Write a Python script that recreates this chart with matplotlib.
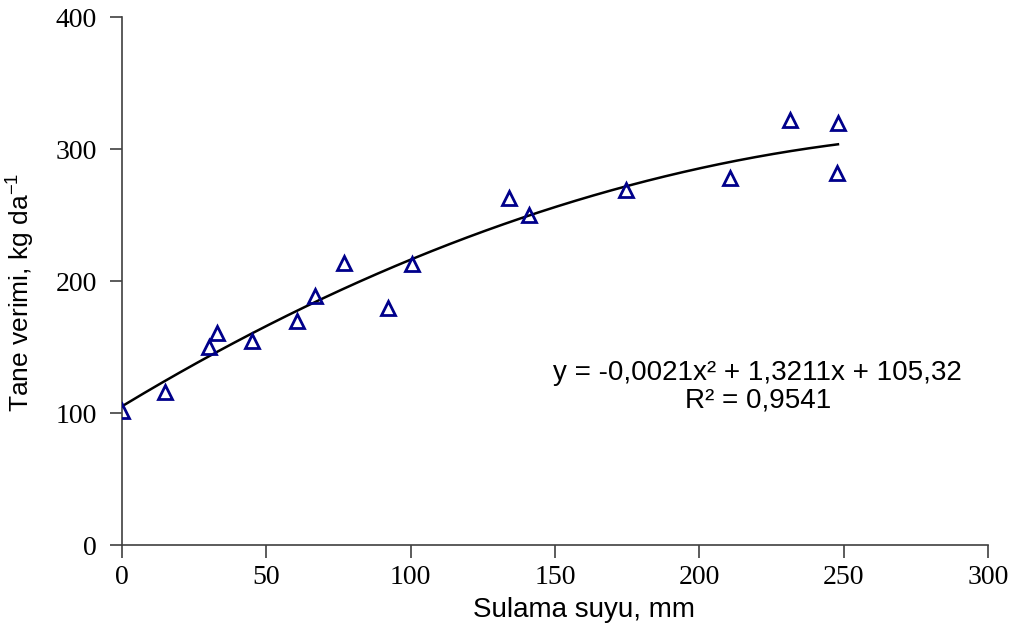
import numpy as np
import matplotlib.pyplot as plt

# irrigation water (mm) and grain yield (kg/da)
su = [0, 15, 30, 33, 45, 60.5, 67, 77, 92, 100.5, 134, 141, 174.5, 210.5, 231.5, 248, 247.5]
verim = [102, 116, 150, 161, 155, 170, 189, 214, 180, 213, 263, 250, 269, 278, 322, 320, 282]

# trendline coefficients as printed on the chart
katsayi = [-0.0021, 1.3211, 105.32]

plt.rcParams['font.family'] = ['Liberation Serif']
plt.rcParams['mathtext.fontset'] = 'custom'
plt.rcParams['mathtext.rm'] = 'Liberation Sans'
plt.rcParams['mathtext.it'] = 'Liberation Sans'

fig = plt.figure(figsize=(10.13, 6.29), dpi=100)
ax = fig.add_axes([0.1204, 0.1330, 0.855, 0.8395])

xs = np.linspace(min(su), max(su), 200)
ax.plot(xs, np.polyval(katsayi, xs), color='black', lw=1.8, zorder=2)
ax.plot(su, verim, linestyle='none', marker='^', markersize=10,
        markerfacecolor='none', markeredgecolor='#00008b', markeredgewidth=2, zorder=3)

ax.set_xlim(0, 300)
ax.set_ylim(0, 400)
ax.set_xticks([0, 50, 100, 150, 200, 250, 300])
ax.set_yticks([0, 100, 200, 300, 400])

for s in ['top', 'right']:
    ax.spines[s].set_visible(False)
for s in ['left', 'bottom']:
    ax.spines[s].set_color('#404040')
    ax.spines[s].set_linewidth(1.2)
ax.tick_params(direction='out', length=9, width=1.2, color='#404040', labelsize=20)
ax.tick_params(axis='x', pad=5)
ax.tick_params(axis='y', pad=9)

ax.set_xlabel('Sulama suyu, mm', family='Liberation Sans', fontsize=20)
ax.set_ylabel('Tane verimi, kg da$^{-1}$', family='Liberation Sans', fontsize=19)
ax.xaxis.set_label_coords(0.534, -0.097)
ax.yaxis.set_label_coords(-0.098, 0.48)

ax.text(0.734, 0.30, 'y = -0,0021x² + 1,3211x + 105,32\nR² = 0,9541',
        transform=ax.transAxes, ha='center', va='center', family='Liberation Sans',
        fontsize=20, linespacing=1.1, multialignment='center')

fig.savefig('out.png', dpi=100)
